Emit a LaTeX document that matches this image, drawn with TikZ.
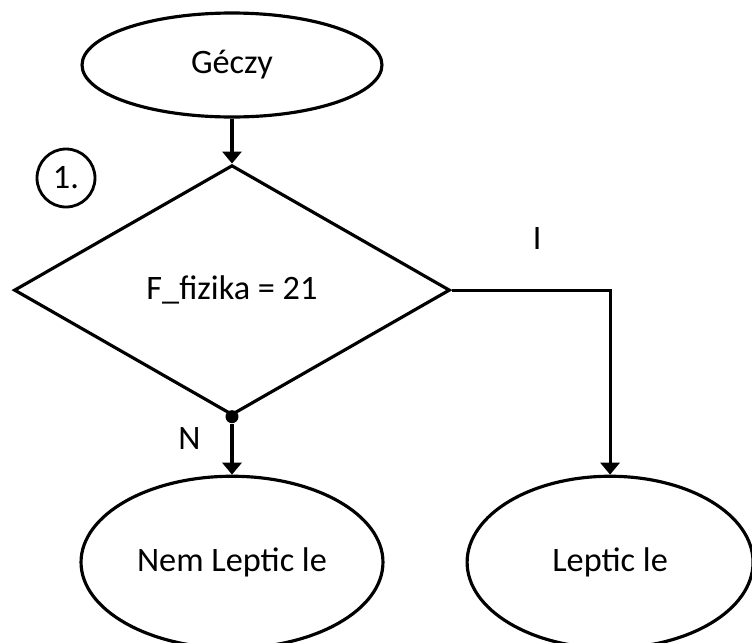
\documentclass[tikz,border=0pt]{standalone}
\usepackage{fontspec}
\setmainfont{Carlito}
\usetikzlibrary{positioning, calc, shapes.geometric, arrows.meta}
\newcommand{\flowfont}{\fontsize{19.5}{23}\selectfont}
\tikzset{
  %% start / end ellipse
  term/.style={
    ellipse, draw, line width=1.8pt,
    inner sep=0pt, align=center, font=\flowfont
  },
  %% decision diamond
  decide/.style={
    diamond, draw, line width=1.8pt, inner sep=0pt,
    minimum width=8.72cm, minimum height=5cm,
    font=\flowfont
  },
  %% step number in a ring
  stepno/.style={
    circle, draw, line width=1.6pt, inner sep=0pt,
    minimum size=1.16cm, font=\flowfont
  },
  %% junction dot
  junc/.style={circle, fill, inner sep=0pt, minimum size=0.26cm},
  %% arrows
  arr/.style={
    -{Triangle[length=0.24cm, width=0.38cm]},
    line width=1.8pt
  },
  lbl/.style={font=\flowfont, inner sep=0pt}
}
\begin{document}
\begin{tikzpicture}[x=0.02cm, y=-0.02cm]
\useasboundingbox (0,0) rectangle (752,643);

%% ═══════════════════════════════════════════
%%  NODES
%% ═══════════════════════════════════════════

\node[term, minimum width=6cm, minimum height=2.08cm] (start) at (232,65) {Géczy};

\node[decide, below=0.9cm of start] (cond) {F\_fizika = 21};

\node[stepno] (num) at (66,178) {1.};

\node[junc] (dot) at (cond.south) {};

\node[term, minimum width=6.04cm, minimum height=3.44cm,
  below=1.16cm of cond] (no) {Nem Leptic le};

\node[term, minimum width=5.72cm, minimum height=3.44cm,
  right=1.62cm of no] (yes) {Leptic le};

%% ═══════════════════════════════════════════
%%  ARROWS
%% ═══════════════════════════════════════════

\draw[arr] (start) -- (cond);

\draw[arr] (dot) --
  node[lbl, left=0.6cm, pos=0.3]{N} (no);

%% yes branch: right, then down
\draw[arr] (cond.east) -|
  node[lbl, above=0.78cm, pos=0.27]{I} (yes.north);

\end{tikzpicture}
\end{document}
